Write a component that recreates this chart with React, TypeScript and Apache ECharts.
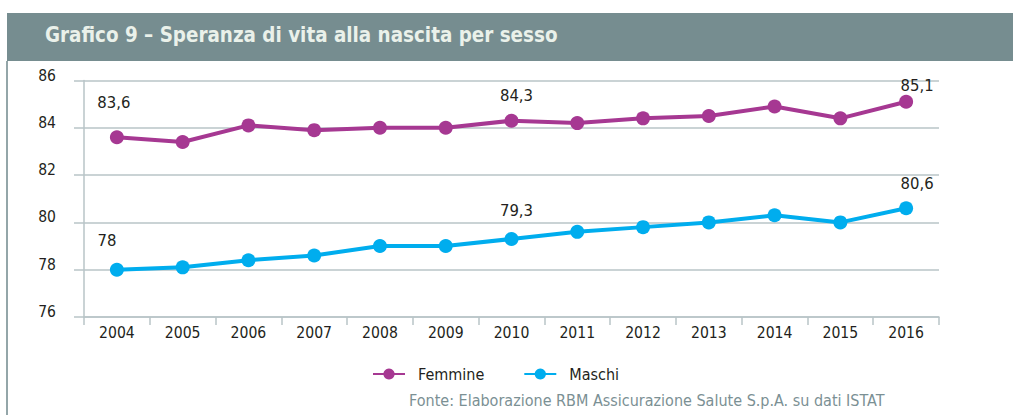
import React, { useEffect, useRef } from "react";
import * as echarts from "echarts";

const years = ["2004", "2005", "2006", "2007", "2008", "2009", "2010", "2011", "2012", "2013", "2014", "2015", "2016"];
const femmine = [83.6, 83.4, 84.1, 83.9, 84.0, 84.0, 84.3, 84.2, 84.4, 84.5, 84.9, 84.4, 85.1];
const maschi = [78.0, 78.1, 78.4, 78.6, 79.0, 79.0, 79.3, 79.6, 79.8, 80.0, 80.3, 80.0, 80.6];
const labelledYears = ["2004", "2010", "2016"];
const yTicks = { min: 76, max: 86, interval: 2 };

const titleText = "Grafico 9 – Speranza di vita alla nascita per sesso";
const sourceText = "Fonte: Elaborazione RBM Assicurazione Salute S.p.A. su dati ISTAT";

const FONT = "'DejaVu Sans Condensed', 'Liberation Sans Narrow', 'DejaVu Sans', sans-serif";
const GRID_COLOR = "#b9c5c7";
const TEXT_COLOR = "#231f20";

// label offsets (styling) per labelled point, per series
const femOffsets: Record<string, [number, number]> = { "2004": [-3, -35], "2010": [5, -25], "2016": [11, -16] };
const masOffsets: Record<string, [number, number]> = { "2004": [-10, -29], "2010": [5, -28], "2016": [11, -25] };

const fmt = (v: number) => String(v).replace(".", ",");

function buildData(values: number[], offsets: Record<string, [number, number]>) {
  return values.map((v, i) => {
    const y = years[i];
    if (labelledYears.includes(y)) {
      return {
        value: v,
        label: {
          show: true,
          position: "inside",
          offset: offsets[y],
          formatter: fmt(v),
          color: TEXT_COLOR,
          fontSize: 16.5,
          fontFamily: FONT,
        },
      };
    }
    return v;
  });
}

export default function App() {
  const ref = useRef<HTMLDivElement>(null);
  useEffect(() => {
    if (!ref.current) return;
    const chart = echarts.init(ref.current, null, { renderer: "svg" });
    chart.setOption({
      animation: false,
      backgroundColor: "#ffffff",
      textStyle: { fontFamily: FONT },
      graphic: [
        { type: "rect", shape: { x: 7, y: 13, width: 1006, height: 48 }, style: { fill: "#768d90" }, silent: true },
        { type: "rect", shape: { x: 6, y: 61, width: 2, height: 354 }, style: { fill: "#94a6a9" }, silent: true },
        {
          type: "text",
          x: 45,
          y: 34.5,
          style: {
            text: titleText,
            fill: "#eaf1ea",
            font: `bold 20.4px ${FONT}`,
            verticalAlign: "middle",
            align: "left",
          },
          silent: true,
        },
        {
          type: "text",
          x: 409,
          y: 400,
          style: {
            text: sourceText,
            fill: "#7b9094",
            font: `16px ${FONT}`,
            verticalAlign: "middle",
            align: "left",
          },
          silent: true,
        },
      ],
      legend: {
        left: 372,
        top: 366,
        padding: 0,
        itemWidth: 32,
        itemHeight: 14,
        itemGap: 39,
        textStyle: { color: TEXT_COLOR, fontSize: 16, fontFamily: FONT, padding: [0, 0, 0, 8] },
        data: ["Femmine", "Maschi"],
      },
      grid: { left: 84, right: 74, top: 80.5, bottom: 98, containLabel: false },
      xAxis: {
        type: "category",
        data: years,
        boundaryGap: true,
        axisLine: { show: true, lineStyle: { color: GRID_COLOR, width: 1.5 } },
        axisTick: { show: true, length: 8, lineStyle: { color: GRID_COLOR, width: 1.5 } },
        axisLabel: { color: TEXT_COLOR, fontSize: 15.6, fontFamily: FONT, margin: 8 },
        splitLine: { show: false },
      },
      yAxis: {
        type: "value",
        min: yTicks.min,
        max: yTicks.max,
        interval: yTicks.interval,
        axisLine: { show: true, lineStyle: { color: GRID_COLOR, width: 1.5 } },
        axisTick: { show: true, inside: false, length: 10, lineStyle: { color: GRID_COLOR, width: 1.5 } },
        axisLabel: {
          color: TEXT_COLOR,
          fontSize: 15.5,
          fontFamily: FONT,
          margin: 28,
          verticalAlign: "bottom",
          lineHeight: 10,
        },
        splitLine: { show: true, lineStyle: { color: GRID_COLOR, width: 1.5 } },
      },
      series: [
        {
          name: "Femmine",
          type: "line",
          data: buildData(femmine, femOffsets),
          symbol: "circle",
          symbolSize: 14,
          color: "#a63892",
          lineStyle: { width: 4, color: "#a63892" },
          itemStyle: { color: "#a63892", borderWidth: 0 },
          label: { show: false },
        },
        {
          name: "Maschi",
          type: "line",
          data: buildData(maschi, masOffsets),
          symbol: "circle",
          symbolSize: 14,
          color: "#00adee",
          lineStyle: { width: 4, color: "#00adee" },
          itemStyle: { color: "#00adee", borderWidth: 0 },
          label: { show: false },
        },
      ],
    });
    return () => chart.dispose();
  }, []);
  return (
    <div
      ref={ref}
      style={{ position: "absolute", left: 0, top: 0, width: 1013, height: 415 }}
    />
  );
}
